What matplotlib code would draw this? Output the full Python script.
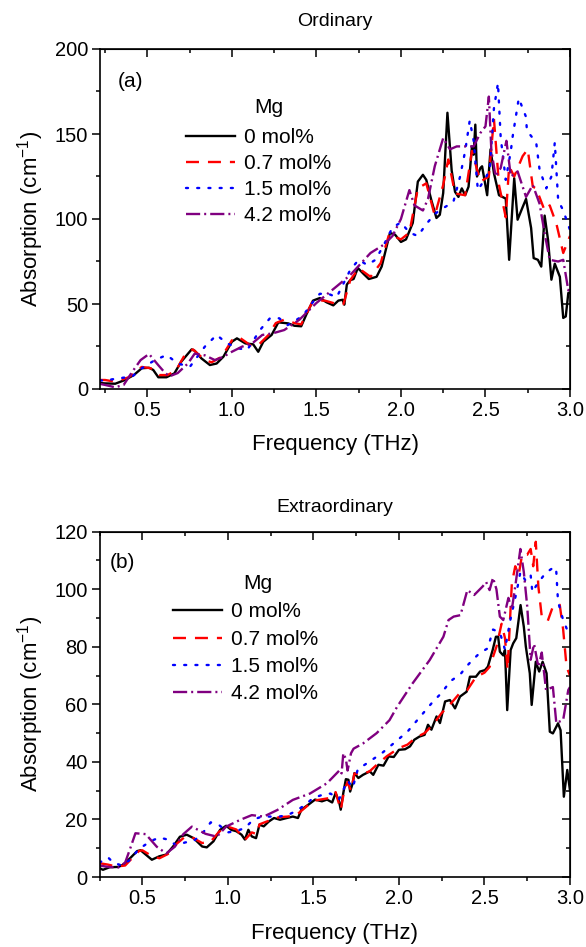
import matplotlib
matplotlib.use("Agg")
import matplotlib.pyplot as plt
from matplotlib.ticker import MultipleLocator

plt.rcParams['font.family'] = ['Liberation Sans', 'DejaVu Sans']
plt.rcParams['mathtext.default'] = 'regular'

# ---------------- Data: (a) Ordinary ----------------
a_f0 = [0.22, 0.25, 0.31, 0.368, 0.42, 0.467, 0.51, 0.535, 0.565, 0.613, 0.66, 0.70, 0.762, 0.78, 0.82, 0.87,
        0.91, 0.95, 1.0, 1.03, 1.08, 1.126, 1.156, 1.186, 1.235, 1.275, 1.333, 1.37, 1.41, 1.44, 1.48, 1.52,
        1.56, 1.60, 1.63, 1.655, 1.665, 1.68, 1.70, 1.72, 1.745, 1.78, 1.81, 1.856, 1.886, 1.935, 1.965, 2.0,
        2.03, 2.07, 2.10, 2.13, 2.15, 2.18, 2.21, 2.23, 2.25, 2.275, 2.30, 2.32, 2.34, 2.36, 2.38, 2.40, 2.42,
        2.43, 2.44, 2.45, 2.47, 2.48, 2.51, 2.53, 2.55, 2.58, 2.62, 2.64, 2.67, 2.69, 2.72, 2.74, 2.77, 2.785,
        2.81, 2.83, 2.85, 2.87, 2.89, 2.91, 2.94, 2.96, 2.975, 2.99, 3.0]
a_v0 = [3.5, 3.3, 3.1, 5.3, 8.2, 12.2, 12.5, 11.2, 6.9, 6.9, 9.2, 16, 23.3, 22.5, 18, 14.1,
        15, 19, 27.8, 29.8, 26.8, 26.3, 21.9, 27.8, 31.8, 39.2, 38.6, 37.2, 36.9, 43.7, 52, 53.5,
        51, 49.2, 52, 52.5, 49.6, 61.4, 64, 64.7, 71.2, 67.6, 64.7, 66, 72, 91.8, 90.8, 86.5,
        88, 97.7, 122, 126, 123, 111, 100.6, 102.5, 115.3, 162.5, 128.6, 116, 113, 118, 114, 119, 142.7,
        137.8, 155.5, 125, 130, 131, 114, 141, 127, 114, 112, 76, 124, 99.6, 107, 111.8, 94.7, 77,
        76, 72, 102, 87.8, 64.3, 73.7, 66, 41.8, 42.7, 56.5, 56.5]

a_f1 = [0.22, 0.25, 0.31, 0.39, 0.467, 0.52, 0.57, 0.62, 0.67, 0.72, 0.77, 0.84, 0.88, 0.94, 1.0, 1.04,
        1.11, 1.155, 1.215, 1.26, 1.31, 1.37, 1.41, 1.48, 1.55, 1.62, 1.66, 1.70, 1.75, 1.82, 1.88, 1.93,
        2.0, 2.05, 2.10, 2.15, 2.20, 2.25, 2.28, 2.32, 2.38, 2.42, 2.47, 2.52, 2.55, 2.58, 2.62, 2.64,
        2.67, 2.72, 2.75, 2.78, 2.80, 2.85, 2.88, 2.92, 2.96, 2.98, 3.0]
a_v1 = [5.3, 5.3, 4.3, 6.9, 13, 12.2, 8.2, 8.2, 11, 19.8, 23.3, 17, 15.7, 19, 28.6, 30.6,
        25.7, 25.7, 31.6, 38.8, 40.8, 38.8, 38, 52, 52, 50, 50, 64, 71, 66, 74, 91,
        88, 92, 118, 121, 102, 120, 135, 115, 114, 140, 122, 125, 159, 120, 101, 131,
        125, 137, 141, 119, 118, 105, 108, 97, 80, 85, 90]

a_f2 = [0.22, 0.25, 0.33, 0.41, 0.467, 0.545, 0.614, 0.68, 0.752, 0.84, 0.91, 0.97, 1.04, 1.09, 1.17,
        1.225, 1.28, 1.33, 1.42, 1.47, 1.52, 1.57, 1.62, 1.66, 1.70, 1.75, 1.80, 1.85, 1.90, 1.95, 2.0,
        2.05, 2.10, 2.15, 2.20, 2.26, 2.31, 2.35, 2.38, 2.407, 2.43, 2.455, 2.50, 2.525, 2.55, 2.574, 2.59,
        2.62, 2.65, 2.66, 2.697, 2.74, 2.745, 2.80, 2.82, 2.86, 2.89, 2.91, 2.93, 2.96, 3.0]
a_v2 = [5, 5, 6.3, 7.3, 12.2, 17, 20, 15, 13.1, 24.9, 31.8, 26.9, 23.9, 22.9, 35.1,
        41.6, 41.6, 37.6, 43, 50, 56, 56, 54, 62, 70, 76, 73, 76, 85, 95, 98,
        92, 90, 97, 103, 107, 110, 125, 140, 158, 146, 117, 124, 129, 165, 180, 148,
        123, 140, 148, 171, 160, 152, 145, 129, 118, 125, 145, 111, 105, 93.5]

a_f3 = [0.22, 0.25, 0.31, 0.36, 0.41, 0.46, 0.51, 0.565, 0.60, 0.63, 0.68, 0.74, 0.78, 0.84, 0.90, 0.95,
        1.0, 1.06, 1.12, 1.18, 1.24, 1.31, 1.40, 1.50, 1.62, 1.70, 1.82, 1.90, 1.95, 2.0, 2.05, 2.08,
        2.13, 2.16, 2.20, 2.25, 2.29, 2.33, 2.38, 2.43, 2.47, 2.50, 2.52, 2.535, 2.56, 2.59, 2.624, 2.65,
        2.69, 2.74, 2.78, 2.82, 2.85, 2.88, 2.93, 2.96, 2.99, 3.0]
a_v3 = [3, 2.4, 1, 2.4, 10, 17, 20.6, 14, 10, 7.4, 9.4, 15, 20.8, 19.8, 17, 19,
        21.9, 24.9, 26.8, 31.8, 32.7, 34.7, 40.8, 50.6, 60.4, 67, 80, 85, 90, 100, 117, 108,
        105, 111.8, 131, 147.6, 141, 142.7, 142.7, 142.7, 150.6, 154.5, 172, 140, 125, 130, 146, 125,
        128, 113, 120, 109, 91.5, 76, 75, 76, 58, 60]

# ---------------- Data: (b) Extraordinary ----------------
b_f0 = [0.25, 0.27, 0.31, 0.36, 0.39, 0.43, 0.47, 0.49, 0.556, 0.60, 0.64, 0.68, 0.72, 0.76, 0.80, 0.85,
        0.877, 0.916, 0.955, 0.99, 1.02, 1.05, 1.08, 1.10, 1.12, 1.14, 1.165, 1.185, 1.21, 1.24, 1.27,
        1.305, 1.345, 1.38, 1.41, 1.43, 1.47, 1.51, 1.55, 1.58, 1.61, 1.63, 1.65, 1.66, 1.675, 1.69, 1.705,
        1.715, 1.73, 1.74, 1.763, 1.79, 1.83, 1.85, 1.88, 1.91, 1.94, 1.97, 2.0, 2.036, 2.065, 2.09, 2.12,
        2.15, 2.17, 2.19, 2.22, 2.24, 2.27, 2.298, 2.328, 2.357, 2.396, 2.415, 2.45, 2.474, 2.503, 2.52,
        2.548, 2.567, 2.58, 2.59, 2.61, 2.62, 2.633, 2.653, 2.668, 2.686, 2.711, 2.73, 2.742, 2.765, 2.776,
        2.80, 2.82, 2.84, 2.863, 2.882, 2.90, 2.93, 2.945, 2.964, 2.984, 3.0]
b_v0 = [3.1, 2.5, 3.4, 3.5, 4.3, 6.6, 9.0, 9.3, 6.0, 7.2, 7.8, 10.6, 14, 14.7, 13.5, 10.6,
        10.3, 12.4, 16.4, 17.8, 16.4, 15.9, 14.7, 13, 16.4, 14.1, 13.5, 18.2, 17.6, 19.3, 20.5,
        19.9, 20.5, 21, 20.5, 23.4, 25.1, 26.9, 26.3, 26.9, 25.9, 29.2, 26.3, 23.4, 29.2, 34, 33.8,
        29.7, 32.6, 36.1, 34.4, 35.5, 36.7, 35.5, 39, 38.7, 41.9, 41.7, 44.2, 44.4, 45.4, 47.7, 48.8,
        49.4, 52.9, 51.2, 55.8, 53.5, 61, 61.5, 58.6, 62.7, 64.4, 69.6, 69.6, 71.4, 71.9, 73.1,
        78.9, 83.5, 83.5, 78.3, 77, 78.9, 58, 78.9, 81.2, 83, 94.5, 87, 80, 70.8, 59.8,
        74.8, 71.4, 74.8, 70.8, 50.5, 49.9, 53.4, 51, 27.9, 37.2, 30]

b_f1 = [0.25, 0.3, 0.35, 0.4, 0.44, 0.48, 0.5, 0.55, 0.6, 0.65, 0.7, 0.75, 0.8, 0.85, 0.9, 0.95, 1.0,
        1.05, 1.10, 1.14, 1.17, 1.185, 1.25, 1.3, 1.35, 1.4, 1.45, 1.5, 1.55, 1.6, 1.63, 1.66, 1.68, 1.7,
        1.72, 1.74, 1.78, 1.83, 1.88, 1.93, 2.0, 2.05, 2.1, 2.15, 2.2, 2.25, 2.3, 2.35, 2.4, 2.45, 2.5,
        2.53, 2.57, 2.6, 2.62, 2.635, 2.66, 2.68, 2.70, 2.72, 2.75, 2.77, 2.785, 2.80, 2.815, 2.835, 2.87,
        2.9, 2.94, 2.96, 2.98, 3.0]
b_v1 = [4.8, 4.3, 3.6, 4.0, 6.5, 9.0, 9.3, 7.5, 6.5, 8.0, 11.5, 14, 13.5, 11.8, 12.3, 15.8, 17.5,
        16.5, 12.9, 15.5, 14.9, 18.3, 19.8, 20.8, 21, 21.5, 24, 26.5, 27, 27.5, 29.5, 23.3, 30, 33,
        30, 36, 35.5, 36.8, 39.5, 42, 44.8, 46, 48.5, 50, 53, 57, 60, 63.5, 65, 69.5, 71,
        73, 80, 88, 83, 72, 102, 108, 105, 112, 112, 114, 108, 116.5, 101, 90.5, 89,
        94, 94.6, 86, 73, 70]

b_f2 = [0.25, 0.3, 0.33, 0.38, 0.43, 0.47, 0.5, 0.55, 0.6, 0.65, 0.7, 0.75, 0.8, 0.85, 0.9, 0.95, 1.0,
        1.05, 1.1, 1.15, 1.2, 1.25, 1.3, 1.35, 1.4, 1.45, 1.5, 1.55, 1.6, 1.65, 1.7, 1.73, 1.76, 1.8,
        1.85, 1.9, 1.95, 2.0, 2.05, 2.1, 2.15, 2.2, 2.25, 2.3, 2.36, 2.4, 2.43, 2.47, 2.52, 2.55, 2.59,
        2.62, 2.65, 2.69, 2.71, 2.74, 2.77, 2.78, 2.81, 2.86, 2.91, 2.92, 2.93, 2.96, 3.0]
b_v2 = [5, 6.8, 5, 4, 6, 9, 10.5, 12.5, 13.7, 13, 11, 12, 12.5, 15, 19, 18, 15.5,
        16, 17, 20, 21, 21, 21, 21.5, 23, 25, 27.5, 28.5, 29, 27, 33.5, 31, 37.5, 39,
        41, 43, 45.5, 48, 50.5, 54, 57.5, 61, 64, 68, 70.5, 73.5, 75.4, 77.7, 79.5, 86, 85,
        79, 89, 99.7, 106, 103, 105, 99, 102, 105.8, 107.8, 106, 95.7, 89.3, 83.5]

b_f3 = [0.25, 0.3, 0.36, 0.4, 0.43, 0.46, 0.52, 0.585, 0.64, 0.69, 0.74, 0.79, 0.87, 0.936, 0.99, 1.07,
        1.14, 1.21, 1.29, 1.38, 1.48, 1.58, 1.655, 1.665, 1.675, 1.69, 1.70, 1.72, 1.735, 1.79, 1.87,
        1.945, 1.99, 2.08, 2.18, 2.26, 2.29, 2.32, 2.36, 2.40, 2.44, 2.49, 2.51, 2.53, 2.55, 2.57, 2.59,
        2.61, 2.64, 2.66, 2.68, 2.71, 2.73, 2.75, 2.77, 2.79, 2.815, 2.835, 2.86, 2.90, 2.92, 2.96, 2.99, 3.0]
b_v3 = [4, 3.5, 3.3, 5, 10, 15.2, 14.9, 10.5, 8.2, 10.5, 14.9, 17.5, 15, 14, 17.5, 19.8,
        21.5, 21, 23.3, 26.8, 29, 32.6, 37.2, 36, 43, 41, 37, 43, 44.6, 46.4, 50,
        54.5, 59.2, 67.3, 75.4, 83.5, 89.3, 90.5, 91, 99.7, 98, 101, 102.5, 99.7, 104, 100, 90.5,
        89.3, 97, 93, 101, 114, 106, 94, 75.5, 81, 73, 78, 65, 66, 53.5, 54.6, 65, 66]

labels = ['0 mol%', '0.7 mol%', '1.5 mol%', '4.2 mol%']
colors = ['black', '#ff0000', '#0000ff', '#800080']
styles = ['-', (0, (5.5, 3.8)), (0, (0.85, 3.9)), (0, (6, 1.7, 0.85, 1.7))]

fig = plt.figure(figsize=(5.86, 9.47), dpi=100)
ax1 = fig.add_axes([100 / 586, 1 - 389 / 947, 470 / 586, 340 / 947])
ax2 = fig.add_axes([99.5 / 586, 1 - 877 / 947, 470.5 / 586, 345.3 / 947])

panels = [
    (ax1, [(a_f0, a_v0), (a_f1, a_v1), (a_f2, a_v2), (a_f3, a_v3)], (0.22, 3.0), (0, 200), 50, 25,
     'Ordinary', 1.08, '(a)', (0.037, 0.905), (0.183, 0.767), (0.36, 0.829), 10, 0.33),
    (ax2, [(b_f0, b_v0), (b_f1, b_v1), (b_f2, b_v2), (b_f3, b_v3)], (0.25, 3.0), (0, 120), 20, 10,
     'Extraordinary', 1.069, '(b)', (0.022, 0.912), (0.156, 0.795), (0.337, 0.851), 11, 0.4),
]

for (ax, series, xl, yl, ymaj, ymin, title, ty, tag, tagpos, legpos, mgpos, xlpad, lsp) in panels:
    for (f, v), lab, c, ls in zip(series, labels, colors, styles):
        ax.plot(f, v, color=c, linestyle=ls, linewidth=1.7, label=lab,
                dash_capstyle='round' if c == '#0000ff' else 'butt')
    ax.set_xlim(*xl)
    ax.set_ylim(*yl)
    ax.xaxis.set_major_locator(MultipleLocator(0.5))
    ax.xaxis.set_minor_locator(MultipleLocator(0.25))
    ax.yaxis.set_major_locator(MultipleLocator(ymaj))
    ax.yaxis.set_minor_locator(MultipleLocator(ymin))
    ax.tick_params(which='both', direction='out', top=False, right=False, width=1.1,
                   labelsize=14.5, pad=3)
    ax.tick_params(which='major', length=5.5)
    ax.tick_params(which='minor', length=3.2)
    for s in ax.spines.values():
        s.set_linewidth(1.2)
    sx = ax.secondary_xaxis('top')
    sx.xaxis.set_major_locator(MultipleLocator(0.5))
    sx.xaxis.set_minor_locator(MultipleLocator(0.25))
    sx.tick_params(which='both', direction='in', labeltop=False, width=1.1)
    sx.tick_params(which='major', length=5.5)
    sx.tick_params(which='minor', length=3.2)
    sy = ax.secondary_yaxis('right')
    sy.yaxis.set_major_locator(MultipleLocator(ymaj))
    sy.yaxis.set_minor_locator(MultipleLocator(ymin))
    sy.tick_params(which='both', direction='in', labelright=False, width=1.1)
    sy.tick_params(which='major', length=5.5)
    sy.tick_params(which='minor', length=3.2)

    ax.set_xlabel('Frequency (THz)', fontsize=16, labelpad=xlpad)
    ax.set_ylabel('Absorption (cm$^{-1}$)', fontsize=16, labelpad=6)
    ax.text(0.5, ty, title, transform=ax.transAxes, fontsize=14, ha='center', va='center')
    ax.text(tagpos[0], tagpos[1], tag, transform=ax.transAxes, fontsize=15, va='center', ha='left')
    ax.text(mgpos[0], mgpos[1], 'Mg', transform=ax.transAxes, fontsize=15, va='center', ha='center')
    ax.legend(loc='upper left', bbox_to_anchor=legpos, frameon=False, fontsize=15,
              handlelength=2.35, handletextpad=0.42, labelspacing=lsp, borderpad=0,
              borderaxespad=0)

fig.savefig('out.png', dpi=100)
